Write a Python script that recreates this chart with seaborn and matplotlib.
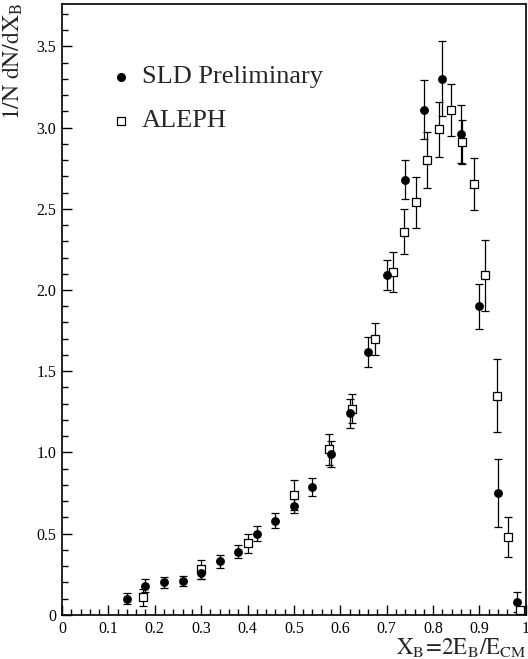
import numpy as np
import pandas as pd
import matplotlib
matplotlib.use("Agg")
import matplotlib.pyplot as plt
from matplotlib.ticker import MultipleLocator, FuncFormatter
import seaborn as sns

# SLD preliminary measurement
sld_x = [0.14, 0.18, 0.22, 0.26, 0.30, 0.34, 0.38, 0.42, 0.46, 0.50, 0.54, 0.58,
         0.62, 0.66, 0.70, 0.74, 0.78, 0.82, 0.86, 0.90, 0.94, 0.98]
sld_y = [0.10, 0.18, 0.20, 0.21, 0.26, 0.33, 0.39, 0.50, 0.58, 0.67, 0.79, 0.99,
         1.24, 1.62, 2.09, 2.68, 3.11, 3.30, 2.96, 1.90, 0.75, 0.08]
sld_err = [0.035, 0.04, 0.035, 0.03, 0.036, 0.039, 0.039, 0.045, 0.045, 0.043, 0.055, 0.078,
           0.09, 0.092, 0.093, 0.12, 0.18, 0.23, 0.18, 0.14, 0.21, 0.06]

# ALEPH measurement
aleph_x = [0.175, 0.30, 0.40, 0.50, 0.575, 0.625, 0.675, 0.7125, 0.7375, 0.7625,
           0.7875, 0.8125, 0.8375, 0.8625, 0.8875, 0.9125, 0.9375, 0.9625, 0.9875]
aleph_y = [0.11, 0.28, 0.44, 0.74, 1.02, 1.27, 1.70, 2.11, 2.36, 2.54,
           2.80, 2.99, 3.11, 2.91, 2.65, 2.09, 1.35, 0.48, 0.03]
aleph_err = [0.052, 0.058, 0.057, 0.092, 0.095, 0.09, 0.098, 0.123, 0.14, 0.156,
             0.17, 0.17, 0.16, 0.137, 0.16, 0.22, 0.225, 0.126, 0.0]

x_ticks = [0.0, 0.1, 0.2, 0.3, 0.4, 0.5, 0.6, 0.7, 0.8, 0.9, 1.0]
y_ticks = [0.0, 0.5, 1.0, 1.5, 2.0, 2.5, 3.0, 3.5]

sns.set_theme(style="ticks")
plt.rcParams["font.family"] = ["Liberation Serif", "DejaVu Serif"]
plt.rcParams["mathtext.fontset"] = "stix"

sld = pd.DataFrame({"x": sld_x, "y": sld_y, "err": sld_err})
aleph = pd.DataFrame({"x": aleph_x, "y": aleph_y, "err": aleph_err})

fig = plt.figure(figsize=(5.28, 6.59), dpi=100)
ax = fig.add_axes([0.1174, 0.0668, 0.8786, 0.9271])

# error bars
ax.errorbar(sld["x"], sld["y"], yerr=sld["err"], fmt="none", ecolor="black",
            elinewidth=0.9, capsize=3.0, capthick=0.9, zorder=2)
ax.errorbar(aleph["x"], aleph["y"], yerr=aleph["err"], fmt="none", ecolor="black",
            elinewidth=0.9, capsize=3.0, capthick=0.9, zorder=2)

# markers
sns.scatterplot(data=sld, x="x", y="y", ax=ax, marker="o", s=34, color="black",
                edgecolor="black", linewidth=0.5, zorder=4, legend=False)
sns.scatterplot(data=aleph, x="x", y="y", ax=ax, marker="s", s=38, facecolor="white",
                edgecolor="black", linewidth=0.9, zorder=3, legend=False)

ax.set_xlim(0, 1)
ax.set_ylim(0, 3.76)
ax.set_xticks(x_ticks)
ax.set_yticks(y_ticks)
ax.xaxis.set_minor_locator(MultipleLocator(0.02))
ax.yaxis.set_minor_locator(MultipleLocator(0.1))


def fmt_x(v, pos):
    if abs(v) < 1e-9:
        return "0"
    if abs(v - 1.0) < 1e-9:
        return "1"
    return f"{v:.1f}"


def fmt_y(v, pos):
    if abs(v) < 1e-9:
        return "0"
    return f"{v:.1f}"


ax.xaxis.set_major_formatter(FuncFormatter(fmt_x))
ax.yaxis.set_major_formatter(FuncFormatter(fmt_y))

ax.tick_params(which="both", direction="in", top=False, right=False,
               labelsize=11.5, colors="black", width=1.0)
ax.tick_params(which="major", length=7, pad=4)
ax.tick_params(which="minor", length=4)

for side in ["left", "bottom", "top", "right"]:
    ax.spines[side].set_visible(True)
    ax.spines[side].set_color("black")
    ax.spines[side].set_linewidth(1.2)

ax.set_xlabel("")
ax.set_ylabel("")

fig.text(0.996, 0.006, r"$\mathrm{X_B\!=\!2E_B/E_{CM}}$", ha="right", va="baseline",
         fontsize=16.5)
fig.text(0.002, 0.996, r"$\mathrm{1/N\ dN/dX_B}$", ha="left", va="top",
         rotation=90, fontsize=17)

# legend entries
ax.plot([0.128], [3.31], marker="o", color="black", markersize=5.5,
        linestyle="none")
ax.text(0.172, 3.31, "SLD Preliminary", fontsize=19, va="center", ha="left")
ax.plot([0.128], [3.04], marker="s", markerfacecolor="white", markeredgecolor="black",
        markersize=5.8, markeredgewidth=0.9, linestyle="none")
ax.text(0.172, 3.04, "ALEPH", fontsize=19, va="center", ha="left")

fig.savefig("out.png", dpi=100)
